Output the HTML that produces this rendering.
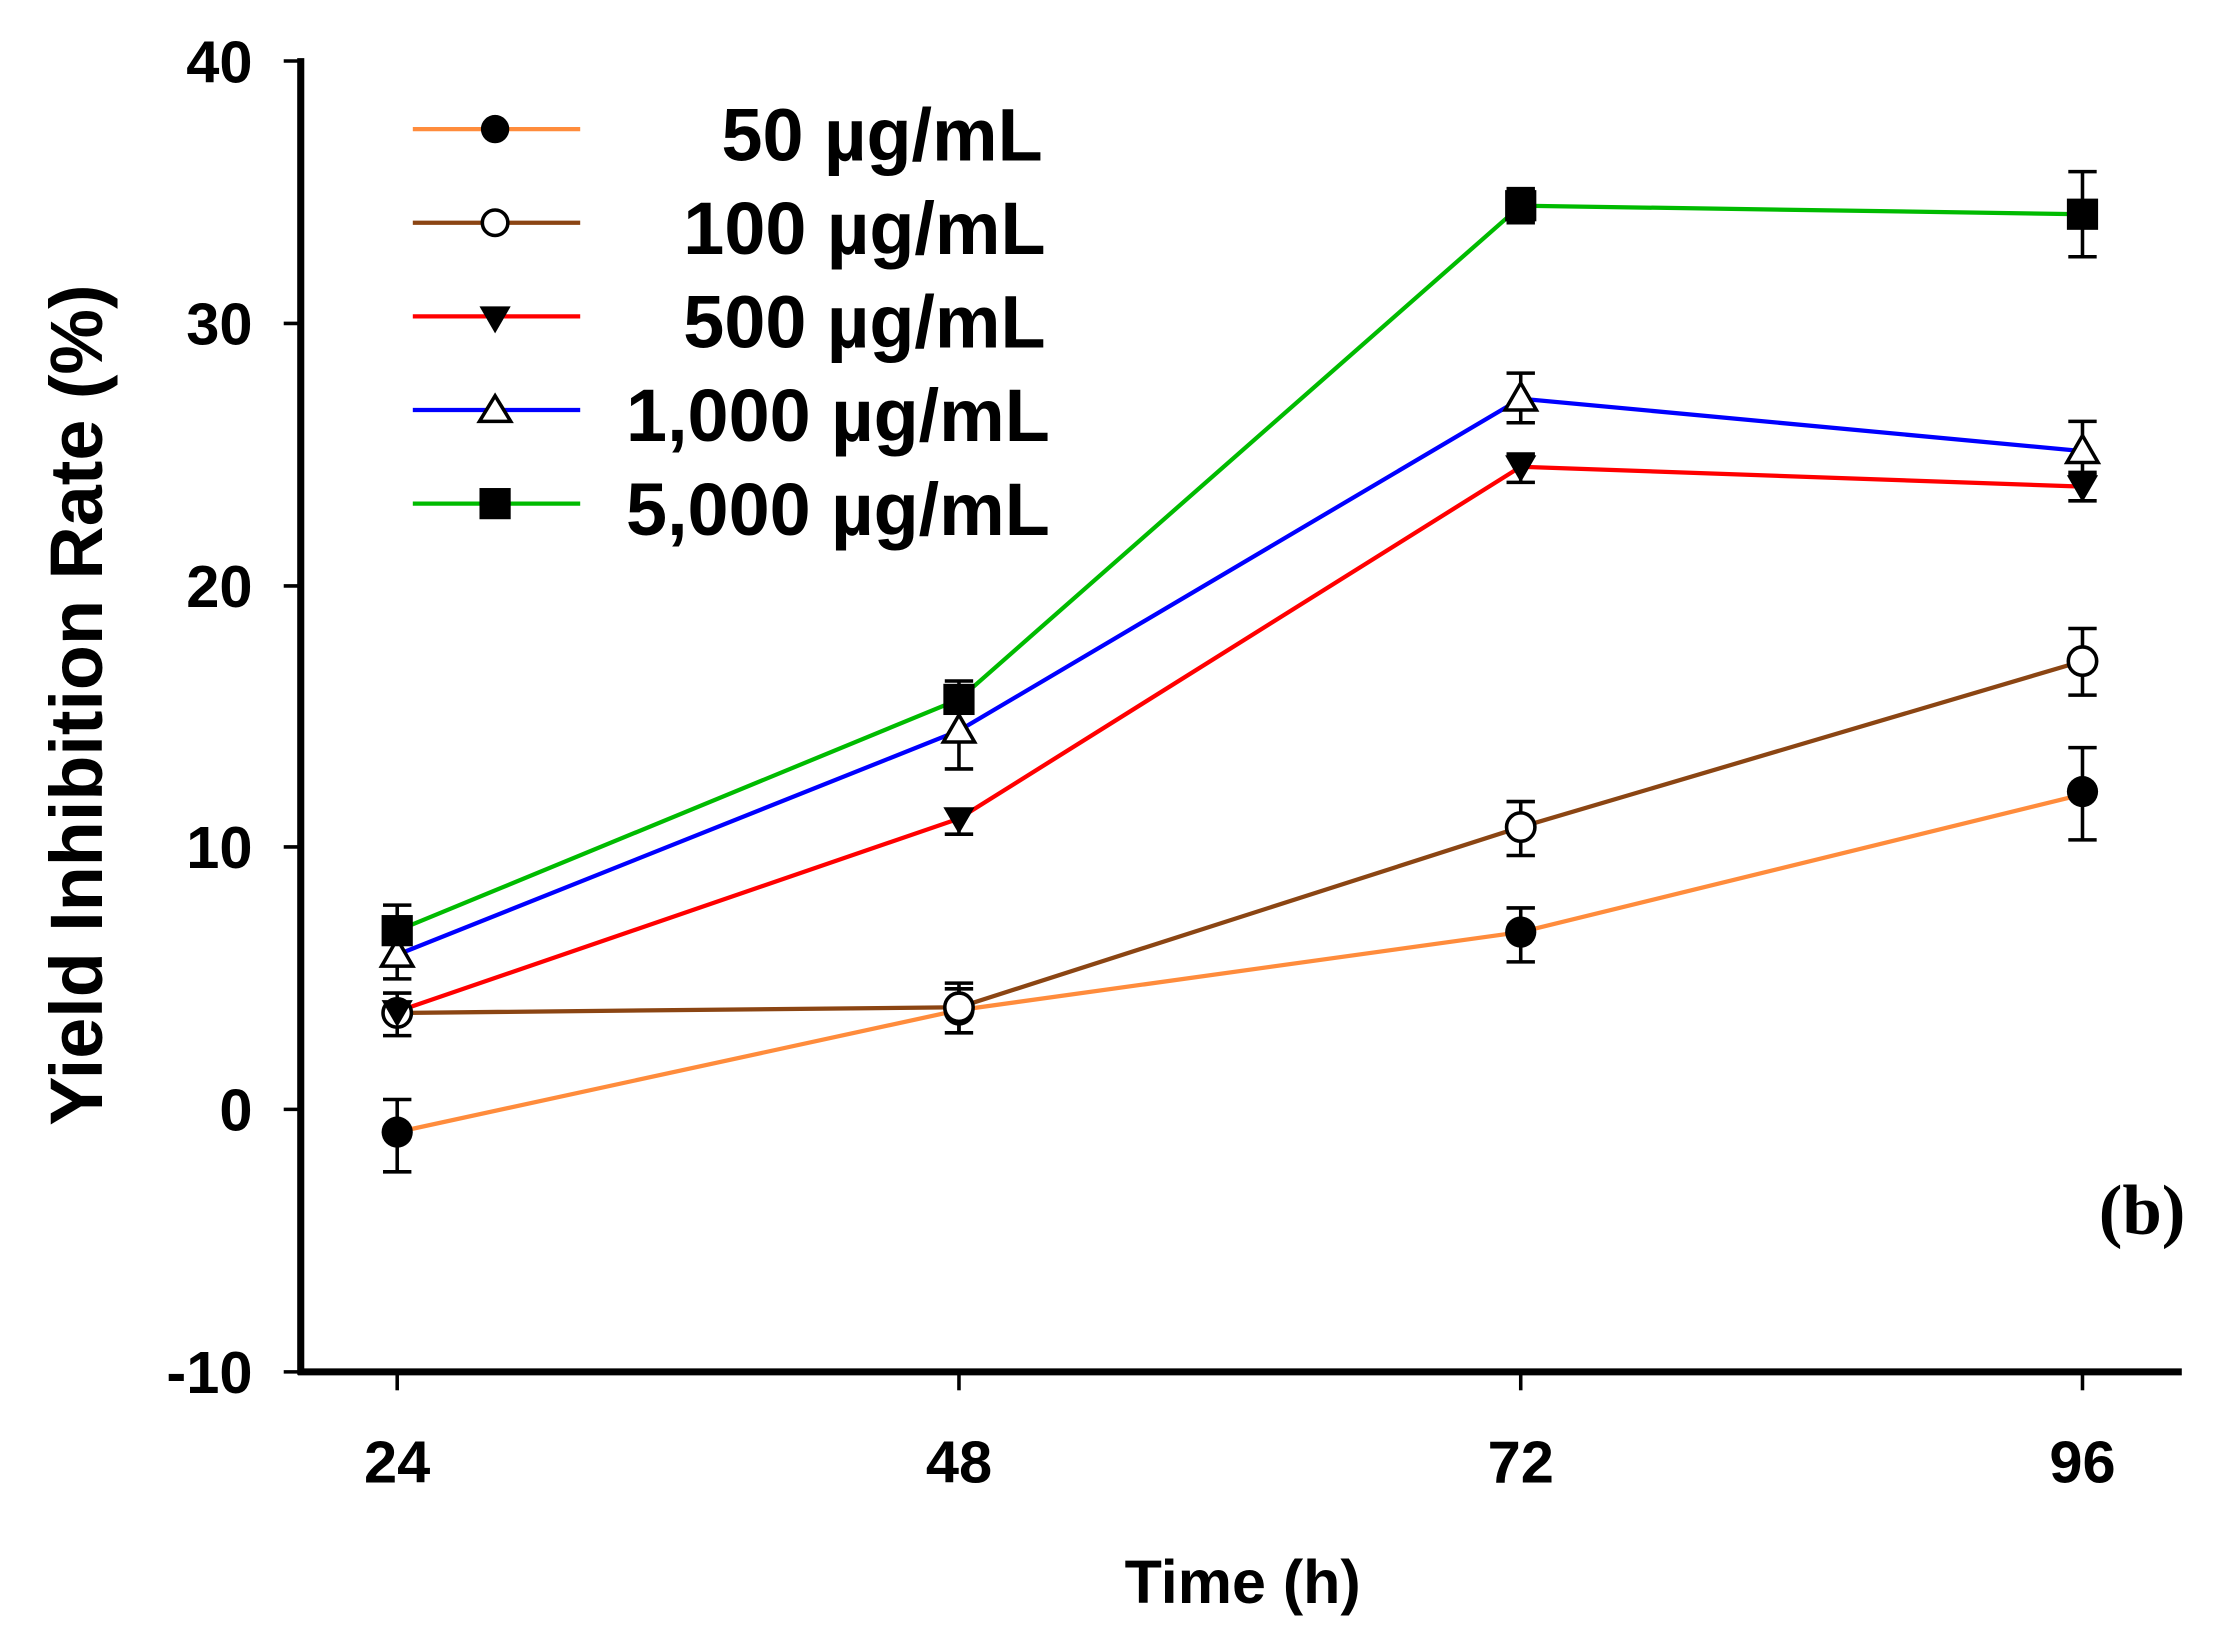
<!DOCTYPE html>
<html><head><meta charset="utf-8"><style>html,body{margin:0;padding:0;background:#fff}svg{display:block}</style></head>
<body>
<svg width="2213" height="1640" viewBox="0 0 1560 1156" preserveAspectRatio="none" xmlns="http://www.w3.org/2000/svg" font-family="Liberation Sans, Arial, sans-serif" font-weight="bold">
<rect width="1560" height="1156" fill="#fff"/>
<line x1="212" y1="41" x2="212" y2="969" stroke="#000" stroke-width="5"/>
<line x1="210" y1="967" x2="1538" y2="967" stroke="#000" stroke-width="5"/>
<g stroke="#000" stroke-width="2.5">
<line x1="200" y1="43" x2="212" y2="43"/><line x1="200" y1="228" x2="212" y2="228"/><line x1="200" y1="413" x2="212" y2="413"/><line x1="200" y1="597" x2="212" y2="597"/><line x1="200" y1="782" x2="212" y2="782"/><line x1="200" y1="967" x2="212" y2="967"/>
<line x1="280" y1="967" x2="280" y2="980"/><line x1="676" y1="967" x2="676" y2="980"/><line x1="1072" y1="967" x2="1072" y2="980"/><line x1="1468" y1="967" x2="1468" y2="980"/>
</g>
<g font-size="42" text-anchor="end">
<text x="178" y="58">40</text><text x="178" y="243">30</text><text x="178" y="428">20</text><text x="178" y="612">10</text><text x="178" y="797">0</text><text x="178" y="982">-10</text>
</g>
<g font-size="42" text-anchor="middle">
<text x="280" y="1045">24</text><text x="676" y="1045">48</text><text x="1072" y="1045">72</text><text x="1468" y="1045">96</text>
</g>
<text x="876" y="1130" font-size="43" text-anchor="middle">Time (h)</text>
<text transform="translate(72,497) rotate(-90)" font-size="52" text-anchor="middle">Yield Inhibition Rate (%)</text>
<text x="1510" y="870" font-family="Liberation Serif, serif" font-size="50" text-anchor="middle">(b)</text>
<g fill="none" stroke-width="3">
<polyline stroke="#ff8c3c" points="280,798 676,712 1072,657 1468,560"/>
<polyline stroke="#8b4513" points="280,714 676,710 1072,583 1468,466"/>
<polyline stroke="#ff0000" points="280,713 676,577 1072,329 1468,343"/>
<polyline stroke="#0000ff" points="280,673 676,515 1072,281 1468,318"/>
<polyline stroke="#00bb00" points="280,656 676,493 1072,145 1468,151"/>
</g>
<g stroke="#000" stroke-width="2.5">
<path d="M280 775V826M270 775H290M270 826H290 M676 697V728M666 697H686M666 728H686 M1072 640V678M1062 640H1082M1062 678H1082 M1468 527V592M1458 527H1478M1458 592H1478"/>
<path d="M676 693V728M666 693H686 M1072 565V603M1062 565H1082M1062 603H1082 M1468 443V490M1458 443H1478M1458 490H1478"/>
<path d="M280 700V730M270 730H290M270 700H290 M676 570V588M666 588H686 M1072 320V340M1062 320H1082M1062 340H1082 M1468 333V353M1458 333H1478M1458 353H1478"/>
<path d="M280 657V690M270 657H290M270 690H290 M676 497V542M666 542H686M666 497H686 M1072 263V298M1062 263H1082M1062 298H1082 M1468 297V335M1458 297H1478M1458 335H1478"/>
<path d="M280 638V675M270 638H290 M676 480V508M666 480H686 M1072 133V157M1062 133H1082M1062 157H1082 M1468 121V181M1458 121H1478M1458 181H1478"/>
</g>
<g fill="#000"><circle cx="280" cy="798" r="11"/><circle cx="676" cy="712" r="11"/><circle cx="1072" cy="657" r="11"/><circle cx="1468" cy="558" r="11"/></g>
<g fill="#fff" stroke="#000" stroke-width="2.5"><circle cx="280" cy="714" r="10"/><circle cx="676" cy="710" r="10"/><circle cx="1072" cy="583" r="10"/><circle cx="1468" cy="466" r="10"/></g>
<g fill="#000"><path d="M269 705H291L280 724Z"/><path d="M665 569H687L676 588Z"/><path d="M1061 321H1083L1072 340Z"/><path d="M1457 335H1479L1468 354Z"/></g>
<g fill="#fff" stroke="#000" stroke-width="2.5"><path d="M280 662L291 681H269Z"/><path d="M676 504L687 523H665Z"/><path d="M1072 270L1083 289H1061Z"/><path d="M1468 307L1479 326H1457Z"/></g>
<g fill="#000"><rect x="269" y="645" width="22" height="22"/><rect x="665" y="482" width="22" height="22"/><rect x="1061" y="134" width="22" height="22"/><rect x="1457" y="140" width="22" height="22"/></g>
<g stroke-width="3">
<line x1="291" y1="91" x2="409" y2="91" stroke="#ff8c3c"/>
<line x1="291" y1="157" x2="409" y2="157" stroke="#8b4513"/>
<line x1="291" y1="223" x2="409" y2="223" stroke="#ff0000"/>
<line x1="291" y1="289" x2="409" y2="289" stroke="#0000ff"/>
<line x1="291" y1="355" x2="409" y2="355" stroke="#00bb00"/>
</g>
<circle cx="349" cy="91" r="10" fill="#000"/>
<circle cx="349" cy="157" r="9" fill="#fff" stroke="#000" stroke-width="2.5"/>
<path d="M338 216H360L349 235Z" fill="#000"/>
<path d="M349 279L360 297H338Z" fill="#fff" stroke="#000" stroke-width="2.5"/>
<rect x="338" y="344" width="22" height="22" fill="#000"/>
<g font-size="52" text-anchor="end">
<text x="735" y="113">50 µg/mL</text>
<text x="737" y="179">100 µg/mL</text>
<text x="737" y="245">500 µg/mL</text>
<text x="740" y="311">1,000 µg/mL</text>
<text x="740" y="377">5,000 µg/mL</text>
</g>
</svg>
</body></html>
